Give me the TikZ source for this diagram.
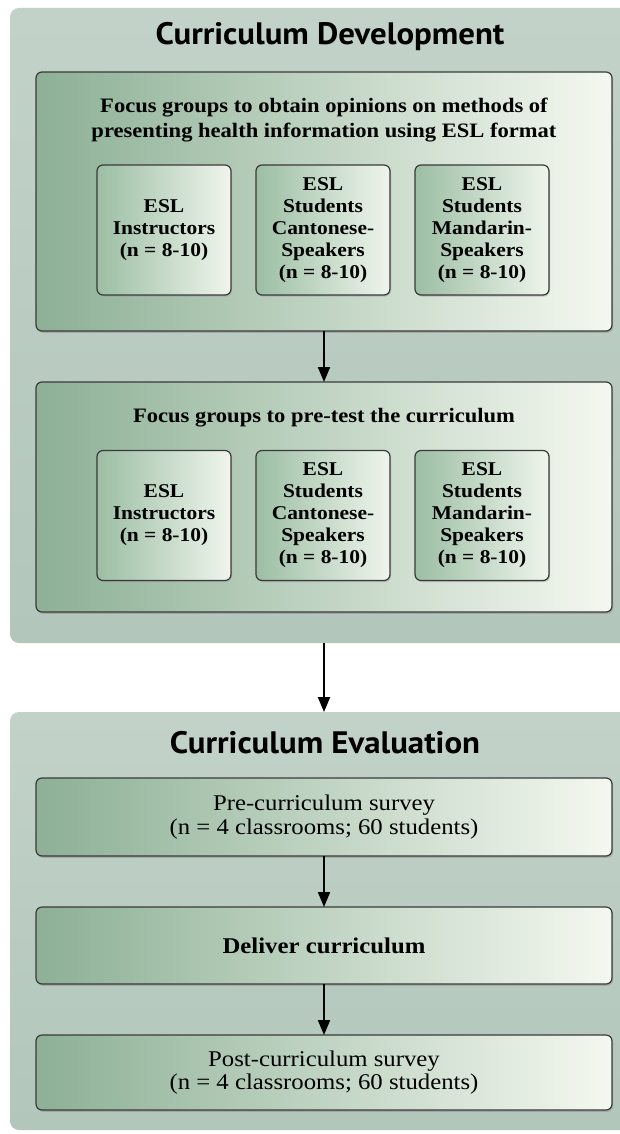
\documentclass[tikz,border=0pt]{standalone}
\usepackage{fontspec}
\setmainfont[FakeStretch=1.1]{Liberation Serif}
\newfontfamily\titlefont[FakeStretch=1.06]{PT Sans}
\usetikzlibrary{arrows.meta,positioning,shadows}

\definecolor{panelhi}{HTML}{C2D2C9}
\definecolor{panello}{HTML}{B2C6BB}
\definecolor{greendark}{HTML}{8DB096}
\definecolor{greenlight}{HTML}{F4F8F0}
\definecolor{subdark}{HTML}{9CBEA4}
\definecolor{sublight}{HTML}{EFF5EC}
\definecolor{edge}{HTML}{3A3A3A}

\begin{document}
\begin{tikzpicture}[
    x=1pt, y=-1pt,
    >={Triangle[length=15pt,width=12pt]},
    node distance=25pt,
    panel/.style={rounded corners=9pt, top color=panelhi, bottom color=panello, minimum width=620pt, inner sep=0pt, outer sep=0pt},
    phase/.style={font=\titlefont\bfseries\fontsize{31}{36}\selectfont, inner sep=0pt},
    stage/.style={draw=edge, line width=1.2pt, rounded corners=6pt, left color=greendark, right color=greenlight, minimum width=576pt, inner sep=0pt, outer sep=0pt, drop shadow={shadow xshift=1.2pt, shadow yshift=-1.8pt, fill=black!45}},
    heading/.style={align=center, inner sep=0pt, font=\bfseries\fontsize{20.5}{25}\selectfont},
    group/.style={draw=edge, line width=1.2pt, rounded corners=6pt, left color=subdark, right color=sublight, minimum width=134pt, minimum height=130pt, inner sep=0pt, outer sep=0pt, align=center, font=\bfseries\fontsize{19.5}{22}\selectfont, drop shadow={shadow xshift=1pt, shadow yshift=-1.5pt, fill=black!40}},
    survey/.style={align=center, font=\fontsize{22.5}{23.5}\selectfont},
    flow/.style={->, line width=2pt}
]
\useasboundingbox (0,0) rectangle (620,1134);

% Panels
\node[panel, minimum height=635pt] (devpanel) at (320,325.5) {};
\node[panel, minimum height=418pt] (evalpanel) at (320,921) {};
\node[phase] (devtitle) at (330,37) {Curriculum Development};
\node[phase] (evaltitle) at (325,743) {Curriculum Evaluation};

% Focus groups: opinions
\node[stage, minimum height=259pt] (opinions) at (324,201.5) {};
\node[heading] (opinionstext) at (324,120) {Focus groups to obtain opinions on methods of\\presenting health information using ESL format};
\node[group] (opcanto) at (323,230) {ESL\\Students\\Cantonese-\\Speakers\\(n = 8-10)};
\node[group, left=of opcanto] (opinstr) {ESL\\Instructors\\(n = 8-10)};
\node[group, right=of opcanto] (opmand) {ESL\\Students\\Mandarin-\\Speakers\\(n = 8-10)};

% Focus groups: pre-test
\node[stage, minimum height=230pt] (pretest) at (324,497) {};
\node[heading] (pretesttext) at (324,418) {Focus groups to pre-test the curriculum};
\node[group] (ptcanto) at (323,515.5) {ESL\\Students\\Cantonese-\\Speakers\\(n = 8-10)};
\node[group, left=of ptcanto] (ptinstr) {ESL\\Instructors\\(n = 8-10)};
\node[group, right=of ptcanto] (ptmand) {ESL\\Students\\Mandarin-\\Speakers\\(n = 8-10)};

% Evaluation chain
\node[stage, minimum height=78pt, survey] (presurvey) at (324,817) {Pre-curriculum survey\\(n = 4 classrooms; 60 students)};
\node[stage, minimum height=77pt, survey, font=\bfseries\fontsize{22.5}{23.5}\selectfont] (deliver) at (324,945.5) {Deliver curriculum};
\node[stage, minimum height=75pt, survey] (postsurvey) at (324,1072.5) {Post-curriculum survey\\(n = 4 classrooms; 60 students)};

% Flows
\draw[flow] (opinions) -- (pretest);
\draw[flow] (devpanel.south -| pretest) -- (evalpanel.north -| pretest);
\draw[flow] (presurvey) -- (deliver);
\draw[flow] (deliver) -- (postsurvey);

\end{tikzpicture}
\end{document}
